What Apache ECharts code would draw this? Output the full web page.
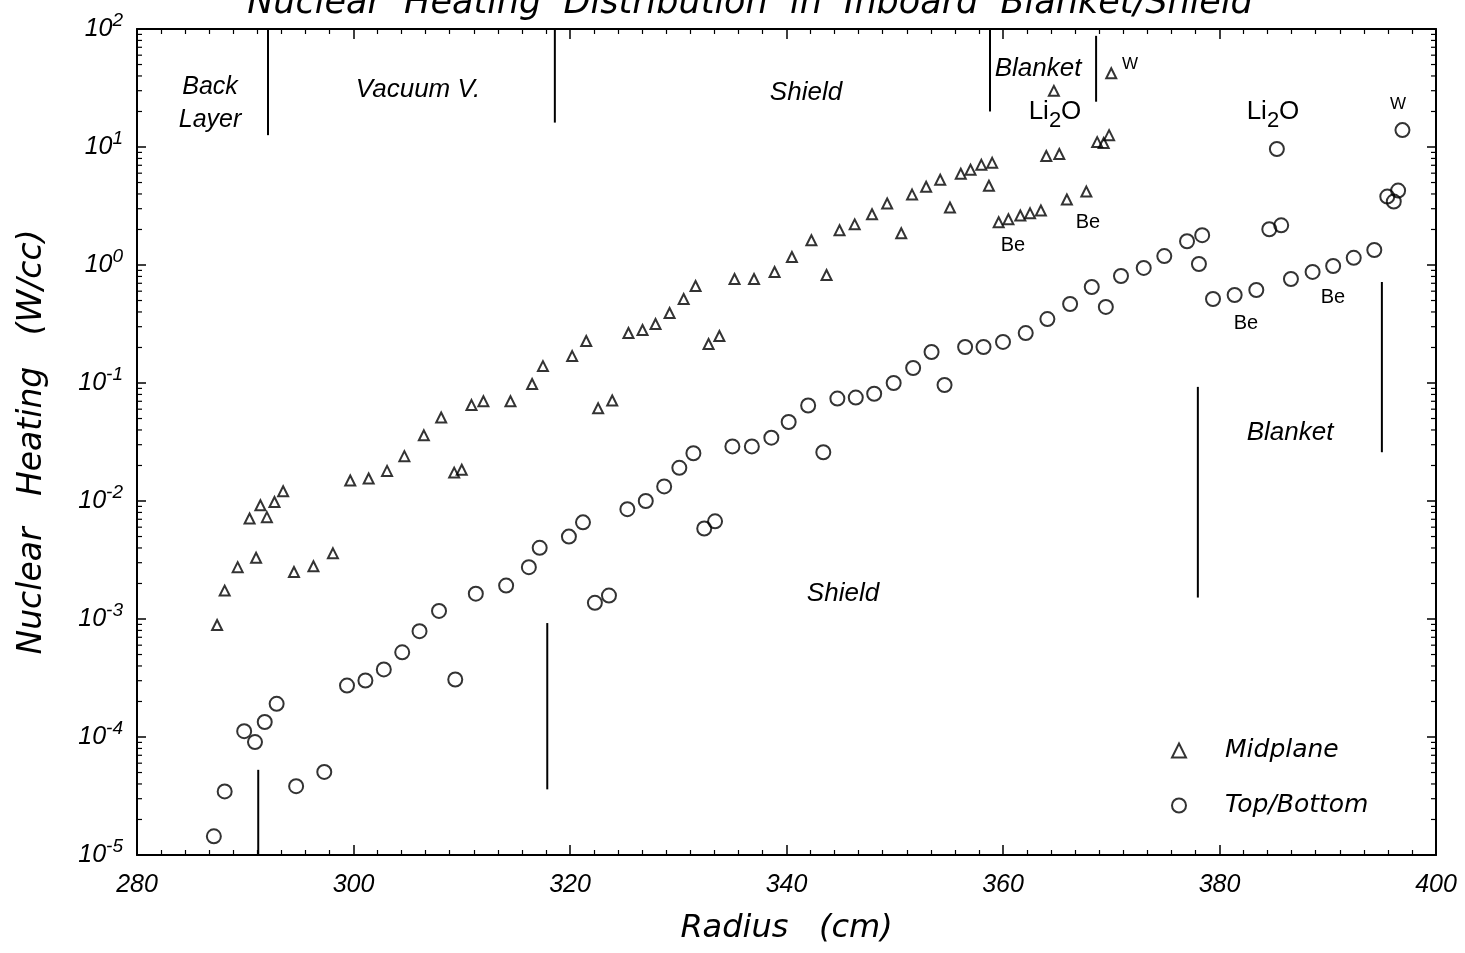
<!DOCTYPE html>
<html>
<head>
<meta charset="utf-8">
<title>Nuclear Heating Distribution in Inboard Blanket/Shield</title>
<script src="https://cdn.jsdelivr.net/npm/echarts@6/dist/echarts.min.js"></script>
<style>
  html, body { margin: 0; padding: 0; background: #fff; }
  #chart { width: 1465px; height: 953px; }
</style>
</head>
<body>
<div id="chart"></div>
<script>
// Midplane (triangles): radius in cm, heating in W/cc
const midR = [287.4, 288.1, 289.3, 290.4, 291.0, 291.4, 292.0, 292.7, 293.5, 294.5,
  296.3, 298.1, 299.7, 301.4, 303.1, 304.7, 306.5, 308.1, 309.3, 310.0,
  310.9, 312.0, 314.5, 316.5, 317.5, 320.2, 321.5, 322.6, 323.9, 325.4,
  326.7, 327.9, 329.2, 330.5, 331.6, 332.8, 333.8, 335.2, 337.0, 338.9,
  340.5, 342.3, 343.7, 344.9, 346.3, 347.9, 349.3, 350.6, 351.6, 352.9,
  354.2, 355.1, 356.1, 357.0, 358.0, 358.7, 359.0, 359.6, 360.5, 361.6,
  362.5, 363.5, 364.0, 364.7, 365.2, 365.9, 367.7, 368.7, 369.3, 369.8, 370.0];
const midHeat = [8.9e-4, 1.74e-3, 2.75e-3, 7.1e-3, 3.3e-3, 9.2e-3, 7.3e-3, 9.8e-3, 1.21e-2, 2.5e-3,
  2.8e-3, 3.6e-3, 1.49e-2, 1.55e-2, 1.8e-2, 2.4e-2, 3.6e-2, 5.1e-2, 1.74e-2, 1.84e-2,
  6.5e-2, 7.0e-2, 7.0e-2, 9.8e-2, 0.139, 0.169, 0.227, 6.1e-2, 7.1e-2, 0.265,
  0.281, 0.316, 0.392, 0.515, 0.664, 0.214, 0.25, 0.761, 0.761, 0.873,
  1.17, 1.62, 0.823, 1.97, 2.21, 2.69, 3.32, 1.86, 3.95, 4.61,
  5.28, 3.07, 5.93, 6.41, 7.06, 4.7, 7.34, 2.3, 2.44, 2.63,
  2.74, 2.9, 8.4, 29.9, 8.73, 3.59, 4.19, 11.0, 10.8, 12.6, 42.2];

// Top/Bottom (circles)
const tbR = [287.1, 288.1, 289.9, 290.9, 291.8, 292.9, 294.7, 297.3, 299.4, 301.1,
  302.8, 304.5, 306.1, 307.9, 309.4, 311.3, 314.1, 316.2, 317.2, 319.9,
  321.2, 322.3, 323.6, 325.3, 327.0, 328.7, 330.1, 331.4, 332.4, 333.4,
  335.0, 336.8, 338.6, 340.2, 342.0, 343.4, 344.7, 346.4, 348.1, 349.9,
  351.7, 353.4, 354.6, 356.5, 358.2, 360.0, 362.1, 364.1, 366.2, 368.2,
  369.5, 370.9, 373.0, 374.9, 377.0, 378.1, 378.4, 379.4, 381.4, 383.4,
  384.6, 385.3, 385.7, 386.6, 388.6, 390.5, 392.4, 394.3, 395.5, 396.1, 396.5, 396.9];
const tbHeat = [1.44e-5, 3.46e-5, 1.12e-4, 9.05e-5, 1.34e-4, 1.91e-4, 3.83e-5, 5.06e-5, 2.73e-4, 3.01e-4,
  3.74e-4, 5.22e-4, 7.89e-4, 1.17e-3, 3.07e-4, 1.64e-3, 1.92e-3, 2.75e-3, 4.01e-3, 4.99e-3,
  6.59e-3, 1.37e-3, 1.58e-3, 8.53e-3, 1.0e-2, 1.33e-2, 1.91e-2, 2.54e-2, 5.85e-3, 6.73e-3,
  2.9e-2, 2.9e-2, 3.44e-2, 4.67e-2, 6.45e-2, 2.59e-2, 7.38e-2, 7.52e-2, 8.11e-2, 0.1,
  0.134, 0.183, 9.62e-2, 0.202, 0.202, 0.223, 0.265, 0.348, 0.467, 0.651,
  0.441, 0.807, 0.944, 1.19, 1.59, 1.02, 1.79, 0.515, 0.557, 0.614,
  2.01, 9.62, 2.17, 0.761, 0.873, 0.981, 1.15, 1.34, 3.8, 3.45, 4.27, 13.9];

// zone boundary lines: radius, lower and upper heating value
const lineR  = [292.1, 318.6, 358.8, 368.6, 291.2, 317.9, 378.0, 395.0];
const lineLo = [12.6, 16.1, 20.0, 24.2, 1e-5, 3.6e-5, 1.52e-3, 2.59e-2];
const lineHi = [100, 100, 100, 87.5, 5.27e-5, 9.24e-4, 9.27e-2, 0.718];

// log axis minor ticks inside each decade
const decades = [1e-5, 1e-4, 1e-3, 1e-2, 1e-1, 1, 10];
const minorMult = [2, 3, 4, 5, 6, 7, 8, 9];

const FONT = '"Liberation Sans", Arial, sans-serif';
const WIDE = '"DejaVu Sans", "Liberation Sans", sans-serif';
const X_MIN = 280, X_MAX = 400;

const minorVals = [];
decades.forEach(d => minorMult.forEach(m => minorVals.push([X_MIN, d * m])));

var myChart = echarts.init(document.getElementById('chart'));

function txt(x, y, s, size, italic, family) {
  return {
    type: 'text', x: x, y: y, silent: true,
    style: {
      text: s, fill: '#000', font: (italic ? 'italic ' : '') + size + 'px ' + (family || FONT),
      align: 'center', verticalAlign: 'middle'
    }
  };
}
const liRich = {
  a: { fontSize: 26, fontFamily: FONT, fill: '#000' },
  s: { fontSize: 22, fontFamily: FONT, fill: '#000', padding: [18, 0, 0, 0] }
};

var option = {
  animation: false,
  backgroundColor: '#fff',
  textStyle: { fontFamily: FONT, color: '#000' },
  grid: { left: 137, right: 29, top: 29, bottom: 98, containLabel: false, outerBoundsMode: 'none' },
  legend: {
    orient: 'vertical', left: 1166, top: 733,
    itemWidth: 14, itemHeight: 14, itemGap: 30,
    selectedMode: false,
    data: ['Midplane', 'Top/Bottom'],
    textStyle: { fontSize: 25, fontStyle: 'italic', fontFamily: WIDE, color: '#000', padding: [0, 0, 0, 34] }
  },
  graphic: [
    txt(750, 4, 'Nuclear  Heating  Distribution  in  Inboard  Blanket/Shield', 35, true, WIDE),
    txt(210, 87, 'Back', 25, true),
    txt(210, 120, 'Layer', 25, true),
    txt(418, 90, 'Vacuum V.', 26, true),
    txt(806, 93, 'Shield', 26, true),
    txt(1038, 69, 'Blanket', 26, true),
    txt(1130, 64, 'W', 17, false),
    { type: 'text', x: 1055, y: 112, silent: true,
      style: { text: '{a|Li}{s|2}{a|O}', rich: liRich, align: 'center', verticalAlign: 'middle' } },
    { type: 'text', x: 1273, y: 112, silent: true,
      style: { text: '{a|Li}{s|2}{a|O}', rich: liRich, align: 'center', verticalAlign: 'middle' } },
    txt(1398, 104, 'W', 17, false),
    txt(1013, 245, 'Be', 20, false),
    txt(1088, 222, 'Be', 20, false),
    txt(1246, 323, 'Be', 20, false),
    txt(1333, 297, 'Be', 20, false),
    txt(1290, 433, 'Blanket', 26, true),
    txt(843, 594, 'Shield', 26, true)
  ],
  xAxis: [{
    type: 'value', min: X_MIN, max: X_MAX, interval: 20,
    name: 'Radius   (cm)', nameLocation: 'middle', nameGap: 58,
    nameTextStyle: { fontSize: 32, fontStyle: 'italic', fontFamily: WIDE, color: '#000' },
    axisLine: { lineStyle: { color: '#000', width: 2 } },
    axisTick: { inside: true, length: 10, lineStyle: { color: '#000', width: 1.5 } },
    minorTick: { show: true, splitNumber: 9, length: 5, lineStyle: { color: '#000', width: 1.2 } },
    axisLabel: { fontSize: 25, fontStyle: 'italic', fontFamily: FONT, color: '#000', margin: 18 },
    splitLine: { show: false }
  }, {
    type: 'value', min: X_MIN, max: X_MAX, interval: 20, position: 'top',
    axisLine: { lineStyle: { color: '#000', width: 2 } },
    axisTick: { inside: true, length: 10, lineStyle: { color: '#000', width: 1.5 } },
    minorTick: { show: true, splitNumber: 9, length: 5, lineStyle: { color: '#000', width: 1.2 } },
    axisLabel: { show: false },
    splitLine: { show: false }
  }],
  yAxis: [{
    type: 'log', min: 1e-5, max: 100, logBase: 10,
    name: 'Nuclear   Heating   (W/cc)', nameLocation: 'middle', nameGap: 88,
    nameTextStyle: { fontSize: 33, fontStyle: 'italic', fontFamily: WIDE, color: '#000' },
    axisLine: { lineStyle: { color: '#000', width: 2 } },
    axisTick: { inside: true, length: 9, lineStyle: { color: '#000', width: 1.5 } },
    axisLabel: {
      margin: 14,
      formatter: function (v) {
        return '{b|10}{e|' + Math.round(Math.log10(v)) + '}';
      },
      rich: {
        b: { fontSize: 25, fontStyle: 'italic', fontFamily: FONT, color: '#000' },
        e: { fontSize: 19, fontStyle: 'italic', fontFamily: FONT, color: '#000', padding: [0, 0, 16, 0] }
      }
    },
    splitLine: { show: false }
  }, {
    type: 'log', min: 1e-5, max: 100, logBase: 10, position: 'right',
    axisLine: { lineStyle: { color: '#000', width: 2 } },
    axisTick: { inside: true, length: 9, lineStyle: { color: '#000', width: 1.5 } },
    axisLabel: { show: false },
    splitLine: { show: false }
  }],
  series: [
    {
      name: 'Midplane', type: 'scatter', symbol: 'triangle', symbolSize: [10, 10],
      itemStyle: { color: 'rgba(0,0,0,0)', borderColor: '#000', borderWidth: 2 },
      data: midR.map((r, i) => [r, midHeat[i]])
    },
    {
      name: 'Top/Bottom', type: 'scatter', symbol: 'circle', symbolSize: 14,
      itemStyle: { color: 'rgba(0,0,0,0)', borderColor: '#000', borderWidth: 2 },
      data: tbR.map((r, i) => [r, tbHeat[i]])
    },
    {
      name: 'zones', type: 'custom', silent: true,
      encode: { x: 0, y: [1, 2] },
      data: lineR.map((r, i) => [r, lineLo[i], lineHi[i]]),
      renderItem: function (params, api) {
        const a = api.coord([api.value(0), api.value(1)]);
        const b = api.coord([api.value(0), api.value(2)]);
        return { type: 'line', shape: { x1: a[0], y1: a[1], x2: b[0], y2: b[1] },
          style: { stroke: '#000', lineWidth: 2 } };
      }
    },
    {
      name: 'logMinor', type: 'custom', silent: true,
      encode: { x: 0, y: 1 },
      data: minorVals,
      renderItem: function (params, api) {
        const l = api.coord([X_MIN, api.value(1)]);
        const r = api.coord([X_MAX, api.value(1)]);
        return { type: 'group', children: [
          { type: 'line', shape: { x1: l[0], y1: l[1], x2: l[0] + 5, y2: l[1] }, style: { stroke: '#000', lineWidth: 1.2 } },
          { type: 'line', shape: { x1: r[0], y1: r[1], x2: r[0] - 5, y2: r[1] }, style: { stroke: '#000', lineWidth: 1.2 } }
        ] };
      }
    }
  ]
};

option && myChart.setOption(option);
window.addEventListener('resize', function () {
  myChart.resize();
});
</script>
</body>
</html>
